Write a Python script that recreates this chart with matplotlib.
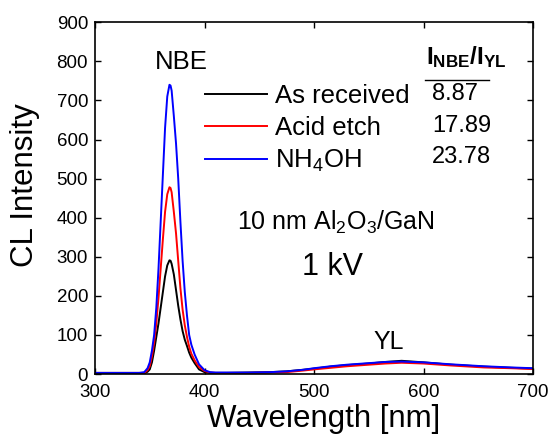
import numpy as np
import matplotlib
matplotlib.use("Agg")
import matplotlib.pyplot as plt

plt.rcParams['font.family'] = ['Liberation Sans', 'DejaVu Sans']
plt.rcParams['mathtext.fontset'] = 'custom'
plt.rcParams['mathtext.rm'] = 'Liberation Sans'
plt.rcParams['mathtext.it'] = 'Liberation Sans'
plt.rcParams['mathtext.bf'] = 'Liberation Sans:bold'

# ---------------------------------------------------------------------------
# 데이터
# ---------------------------------------------------------------------------
wavelength = [300, 320, 340, 345, 348, 350, 352, 354, 356, 358, 360, 362, 364,
              366, 368, 369, 370, 372, 374, 376, 378, 380, 382, 384, 386, 388,
              391, 395, 400, 405, 410, 420, 440, 460, 475, 490, 500, 515, 530,
              550, 565, 580, 600, 625, 655, 680, 700]

as_received = [3, 3, 3, 2, 6, 12, 30, 60, 95, 130, 170, 210, 250,
               278, 291, 290, 282, 255, 215, 175, 140, 110, 88, 72, 55, 42,
               28, 12, 5, 3, 3, 3, 4, 5, 7, 11, 14, 19, 23,
               27, 31, 34, 30, 24, 19, 16, 14]

acid_etch = [3, 3, 3, 3, 10, 20, 45, 80, 130, 195, 270, 345, 415,
             460, 478, 476, 465, 415, 360, 290, 220, 165, 125, 95, 70, 52,
             35, 18, 8, 4, 3, 3, 3, 4, 5, 9, 12, 16, 20,
             24, 27, 29, 27, 22, 17, 15, 13]

nh4oh = [3, 3, 3, 5, 15, 30, 60, 100, 170, 270, 390, 510, 630,
         710, 740, 738, 725, 660, 590, 500, 390, 290, 210, 150, 100, 75,
         50, 25, 10, 5, 4, 4, 4, 5, 7, 11, 15, 20, 24,
         28, 31, 32, 30, 25, 20, 17, 15]

labels = ["As received", "Acid etch", r"NH$_4$OH"]
ratios = ["8.87", "17.89", "23.78"]
colors = ["black", "red", "blue"]

# ---------------------------------------------------------------------------
# 그림
# ---------------------------------------------------------------------------
fig = plt.figure(figsize=(5.49, 4.36), dpi=100)
ax = fig.add_axes([0.173, 0.142, 0.798, 0.807])

for y, lab, c in zip([as_received, acid_etch, nh4oh], labels, colors):
    ax.plot(wavelength, y, color=c, lw=1.4, label=lab)

ax.set_xlim(300, 700)
ax.set_ylim(0, 900)
ax.set_xticks([300, 400, 500, 600, 700])
ax.set_yticks(np.arange(0, 901, 100))
ax.tick_params(direction='in', top=True, right=True, length=4, width=1,
               labelsize=13.5)
ax.tick_params(axis='x', pad=7)
ax.tick_params(axis='y', pad=5)
for s in ax.spines.values():
    s.set_linewidth(1.2)

ax.set_xlabel("Wavelength [nm]", fontsize=22.5)
ax.xaxis.set_label_coords(0.523, -0.085)
ax.set_ylabel("CL Intensity", fontsize=22.5)
ax.yaxis.set_label_coords(-0.126, 0.537)

ax.legend(loc='upper left', bbox_to_anchor=(0.251, 0.825), frameon=False,
          fontsize=18.5, handlelength=2.4, handletextpad=0.32,
          labelspacing=0.32, borderpad=0, borderaxespad=0)

ax.text(378.5, 798, "NBE", fontsize=18.5, ha='center', va='center')
ax.text(568.5, 82, "YL", fontsize=18, ha='center', va='center')

ax.text(639, 792, r"$\mathbf{I_{NBE}/I_{YL}}$", fontsize=17.5, ha='center',
        va='baseline')
ax.plot([601, 660], [752, 752], color='black', lw=1)
for r, yy in zip(ratios, [716, 634, 555]):
    ax.text(608, yy, r, fontsize=17, ha='left', va='center')

ax.text(520, 389, r"10 nm Al$_2$O$_3$/GaN", fontsize=18, ha='center',
        va='center')
ax.text(517, 274, "1 kV", fontsize=22, ha='center', va='center')

fig.savefig("out.png", dpi=100)
